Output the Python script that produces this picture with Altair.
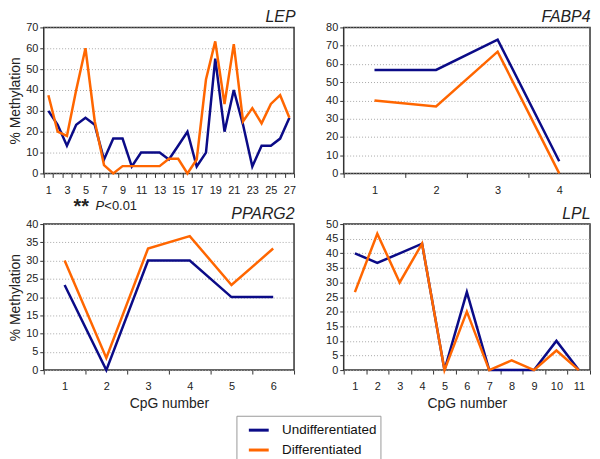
import altair as alt
import pandas as pd

series_names = ["Undifferentiated", "Differentiated"]
series_colors = ["#0b0b87", "#ff6600"]

lep_undiff = [30, 23.3, 13.3, 23.3, 26.7, 23.3, 6.7, 16.7, 16.7, 3.3, 10, 10, 10, 6.7,
              13.3, 20, 3.3, 10, 55, 20, 40, 23.3, 3.3, 13.3, 13.3, 16.7, 26.7]
lep_diff = [37.5, 20, 18, 40, 60, 25, 4, 0, 3.5, 3.5, 3.5, 3.5, 3.5, 7, 7, 0, 6.7,
            45, 63.3, 33.3, 62, 25, 31.3, 24, 33.3, 37.5, 26.7]

fabp4_undiff = [56.7, 56.7, 73.3, 6.7]
fabp4_diff = [40, 36.7, 66.7, 0]

pparg2_undiff = [23.3, 0, 30, 30, 20, 20]
pparg2_diff = [30, 3.3, 33.3, 36.7, 23.3, 33.3]

lpl_undiff = [40, 36.7, 40, 43.3, 0, 26.7, 0, 0, 0, 10, 0]
lpl_diff = [26.7, 46.7, 30, 43.3, 0, 20, 0, 3.3, 0, 6.7, 0]

FONT = "Liberation Sans"


def panel(undiff, diff, ymax, ystep, ytitle, xtitle, odd_only=False):
    n = len(undiff)
    cpg = list(range(1, n + 1))
    df = pd.DataFrame({
        "cpg": cpg + cpg,
        "value": undiff + diff,
        "series": [series_names[0]] * n + [series_names[1]] * n,
    })
    xvals = [i / 2 for i in range(1, 2 * n + 2)]
    if odd_only:
        label_expr = "datum.value % 2 == 1 ? format(datum.value, 'd') : ''"
    else:
        label_expr = "datum.value % 1 != 0 ? '' : format(datum.value, 'd')"
    xaxis = dict(
        values=xvals,
        labelExpr=label_expr,
        tickOpacity={"condition": {"test": "datum.value % 1 != 0", "value": 1}, "value": 0},
        grid=False,
        domain=False,
        labelFlush=False,
        labelOverlap=False,
        tickSize=4,
        labelPadding=7,
        titlePadding=5,
        titleFontWeight="normal",
        titleFontSize=14,
    )
    yaxis = dict(
        values=list(range(0, ymax + 1, ystep)),
        grid=True,
        gridDash=[1, 2],
        gridColor="#a8a8a8",
        domain=False,
        tickSize=4,
        labelPadding=2,
        titlePadding=3,
        titleFontWeight="normal",
        titleFontSize=14,
    )
    x = alt.X("cpg:Q", scale=alt.Scale(domain=[0.5, n + 0.5], nice=False, zero=False),
              axis=alt.Axis(**xaxis), title=xtitle if xtitle else None)
    y = alt.Y("value:Q", scale=alt.Scale(domain=[0, ymax], nice=False),
              axis=alt.Axis(**yaxis), title=ytitle if ytitle else None)
    color = alt.Color(
        "series:N",
        scale=alt.Scale(domain=series_names, range=series_colors),
        legend=alt.Legend(
            title=None,
            orient="none",
            legendX=194,
            legendY=391,
            direction="vertical",
            symbolType="stroke",
            symbolSize=400,
            symbolStrokeWidth=3,
            symbolOffset=8,
            labelFontSize=13.5,
            labelFont=FONT,
            labelColor="#111",
            labelOffset=12,
            labelExpr="datum.label + '\u00a0\u00a0\u00a0\u00a0\u00a0\u00a0'",
            padding=3,
            rowPadding=2,
            strokeColor="#999",
            fillColor="white",
        ),
    )
    return alt.Chart(df).mark_line(strokeWidth=2.5).encode(
        x=x, y=y, color=color, detail="series:N")


def titled(chart, name, width, height):
    return chart.properties(
        width=width,
        height=height,
        title=alt.Title(name, anchor="end", fontStyle="italic", fontSize=16,
                        fontWeight="normal", font=FONT, offset=-4, color="#222"),
    )


lep_line = panel(lep_undiff, lep_diff, 70, 10, "% Methylation", None, odd_only=True)
note_stars = alt.Chart(pd.DataFrame({"t": ["**"]})).mark_text(
    align="left", baseline="alphabetic", fontSize=20, fontWeight="bold", font=FONT, color="#222"
).encode(x=alt.value(30), y=alt.value(187), text="t:N")
note_p = alt.Chart(pd.DataFrame({"t": ["P"]})).mark_text(
    align="left", baseline="alphabetic", fontSize=13, fontStyle="italic", font=FONT, color="#222"
).encode(x=alt.value(52), y=alt.value(184), text="t:N")
note_val = alt.Chart(pd.DataFrame({"t": ["<0.01"]})).mark_text(
    align="left", baseline="alphabetic", fontSize=13, font=FONT, color="#222"
).encode(x=alt.value(61), y=alt.value(184), text="t:N")
lep = titled(alt.layer(lep_line, note_stars, note_p, note_val), "LEP", 252, 147)

fabp4 = titled(panel(fabp4_undiff, fabp4_diff, 80, 10, None, None), "FABP4", 248, 147)
pparg2 = titled(panel(pparg2_undiff, pparg2_diff, 40, 5, "% Methylation", "CpG number"), "PPARG2", 252, 147)
lpl = titled(panel(lpl_undiff, lpl_diff, 50, 5, None, "CpG number"), "LPL", 248, 147)

chart = alt.concat(
    lep, fabp4, pparg2, lpl, columns=2,
    spacing={"row": 51, "column": 50}, bounds="flush",
).resolve_scale(
    x="independent", y="independent"
).properties(
    padding={"left": 0, "top": -1, "right": 0, "bottom": 0},
    background="white",
).configure_view(
    stroke="#333", strokeWidth=1.5
).configure_axis(
    labelFont=FONT, labelFontSize=11, labelColor="#222",
    titleFont=FONT, titleFontSize=14, titleFontWeight="normal", titleColor="#222",
    tickColor="#333",
)

chart.save("out.html", embed_options={"renderer": "svg", "actions": False})
